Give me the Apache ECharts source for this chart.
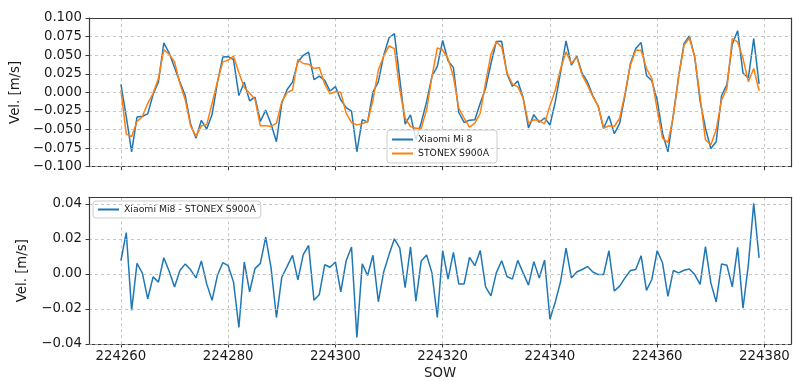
<!DOCTYPE html>
<html>
<head>
<meta charset="utf-8">
<script src="https://cdn.jsdelivr.net/npm/echarts@6/dist/echarts.min.js"></script>
<style>
  html, body { margin: 0; padding: 0; background: #fff; }
  #chart { width: 793px; height: 381px; }
</style>
</head>
<body>
<div id="chart"></div>
<script>
// GPS second-of-week of the first epoch; one sample per second
const SOW_START = 224260;

// Velocity [m/s] from the smartphone
const xiaomi = [
  0.0106, -0.0326, -0.0801, -0.0332, -0.0322, -0.0289, -0.0030, 0.0140, 0.0667, 0.0528,
  0.0335, 0.0139, -0.0046, -0.0427, -0.0616, -0.0376, -0.0494, -0.0298, 0.0135, 0.0474,
  0.0480, 0.0439, -0.0043, 0.0135, -0.0115, -0.0064, -0.0390, -0.0240, -0.0425, -0.0664,
  -0.0144, 0.0039, 0.0137, 0.0408, 0.0498, 0.0541, 0.0170, 0.0218, 0.0162, 0.0018,
  0.0077, -0.0102, -0.0206, -0.0253, -0.0799, -0.0367, -0.0401, 0.0003, 0.0140, 0.0497,
  0.0734, 0.0789, 0.0178, -0.0427, -0.0304, -0.0637, -0.0408, -0.0128, 0.0216, 0.0349,
  0.0698, 0.0425, 0.0333, -0.0271, -0.0405, -0.0374, -0.0368, -0.0147, 0.0055, 0.0388,
  0.0684, 0.0686, 0.0248, 0.0081, 0.0153, -0.0074, -0.0479, -0.0300, -0.0402, -0.0345,
  -0.0439, -0.0129, 0.0279, 0.0691, 0.0365, 0.0488, 0.0257, 0.0140, -0.0047, -0.0187,
  -0.0486, -0.0318, -0.0557, -0.0418, -0.0036, 0.0385, 0.0591, 0.0670, 0.0227, 0.0155,
  -0.0104, -0.0553, -0.0801, -0.0307, 0.0216, 0.0654, 0.0759, 0.0473, -0.0118, -0.0483,
  -0.0756, -0.0664, -0.0046, 0.0103, 0.0648, 0.0829, 0.0259, 0.0196, 0.0723, 0.0113
];

// Velocity [m/s] from the geodetic receiver
const stonex = [
  0.0031, -0.0562, -0.0593, -0.0392, -0.0326, -0.0147, -0.0013, 0.0187, 0.0575, 0.0513,
  0.0410, 0.0120, -0.0103, -0.0450, -0.0593, -0.0450, -0.0437, -0.0147, 0.0143, 0.0410,
  0.0433, 0.0486, 0.0263, 0.0067, -0.0013, -0.0094, -0.0450, -0.0450, -0.0459, -0.0415,
  -0.0125, -0.0004, 0.0031, 0.0442, 0.0388, 0.0379, 0.0321, 0.0335, 0.0110, -0.0020,
  0.0009, 0.0000, -0.0281, -0.0406, -0.0437, -0.0424, -0.0392, -0.0103, 0.0299, 0.0486,
  0.0624, 0.0589, 0.0031, -0.0348, -0.0459, -0.0482, -0.0482, -0.0236, 0.0210, 0.0598,
  0.0566, 0.0455, 0.0210, -0.0214, -0.0348, -0.0468, -0.0415, -0.0281, 0.0129, 0.0513,
  0.0678, 0.0611, 0.0263, 0.0111, 0.0076, -0.0080, -0.0415, -0.0370, -0.0379, -0.0424,
  -0.0180, 0.0031, 0.0321, 0.0544, 0.0388, 0.0477, 0.0232, 0.0098, -0.0058, -0.0183,
  -0.0482, -0.0450, -0.0459, -0.0348, -0.0013, 0.0366, 0.0566, 0.0566, 0.0321, 0.0187,
  -0.0236, -0.0615, -0.0673, -0.0326, 0.0210, 0.0633, 0.0731, 0.0477, -0.0058, -0.0638,
  -0.0705, -0.0504, -0.0103, 0.0054, 0.0722, 0.0678, 0.0455, 0.0143, 0.0321, 0.0022
];

// Velocity difference Xiaomi Mi8 - STONEX S900A [m/s]
const difference = [
  0.0075, 0.0236, -0.0208, 0.0060, 0.0004, -0.0142, -0.0017, -0.0047, 0.0092, 0.0015,
  -0.0075, 0.0019, 0.0057, 0.0023, -0.0023, 0.0074, -0.0057, -0.0151, -0.0008, 0.0064,
  0.0047, -0.0047, -0.0306, 0.0068, -0.0102, 0.0030, 0.0060, 0.0210, 0.0034, -0.0249,
  -0.0019, 0.0043, 0.0106, -0.0034, 0.0110, 0.0162, -0.0151, -0.0117, 0.0052, 0.0038,
  0.0068, -0.0102, 0.0075, 0.0153, -0.0362, 0.0057, -0.0009, 0.0106, -0.0159, 0.0011,
  0.0110, 0.0200, 0.0147, -0.0079, 0.0155, -0.0155, 0.0074, 0.0108, 0.0006, -0.0249,
  0.0132, -0.0030, 0.0123, -0.0057, -0.0057, 0.0094, 0.0047, 0.0134, -0.0074, -0.0125,
  0.0006, 0.0075, -0.0015, -0.0030, 0.0077, 0.0006, -0.0064, 0.0070, -0.0023, 0.0079,
  -0.0259, -0.0160, -0.0042, 0.0147, -0.0023, 0.0011, 0.0025, 0.0042, 0.0011, -0.0004,
  -0.0004, 0.0132, -0.0098, -0.0070, -0.0023, 0.0019, 0.0025, 0.0104, -0.0094, -0.0032,
  0.0132, 0.0062, -0.0128, 0.0019, 0.0006, 0.0021, 0.0028, -0.0004, -0.0060, 0.0155,
  -0.0051, -0.0160, 0.0057, 0.0049, -0.0074, 0.0151, -0.0196, 0.0053, 0.0402, 0.0091
];

// Tick values
const sowTicks = [224260, 224280, 224300, 224320, 224340, 224360, 224380];
const velTicksTop = [-0.1, -0.075, -0.05, -0.025, 0, 0.025, 0.05, 0.075, 0.1];
const velTicksBottom = [-0.04, -0.02, 0, 0.02, 0.04];

const sow = xiaomi.map((_, i) => SOW_START + i);
const pairs = vals => vals.map((v, i) => [sow[i], v]);

const FONT = 'DejaVu Sans';
const TEXT = '#1a1a1a';
const SPINE = '#3a3a3a';
const GRIDLINE = { show: true, lineStyle: { color: '#b8b8b8', type: [3, 3], width: 0.8 } };
const BLUE = '#1f77b4';
const ORANGE = '#ff7f0e';

// x range padded 5% past the first and last epoch
const span = sow[sow.length - 1] - sow[0];
const xMin = sow[0] - span * 0.05;
const xMax = sow[sow.length - 1] + span * 0.05;

const fmtSigned = d => v => {
  const s = Math.abs(v).toFixed(d);
  return (v < 0 && Number(s) !== 0 ? '\u2212' : '') + s;
};

function bottomX(gridIndex, showLabels) {
  return {
    type: 'value', gridIndex, min: xMin, max: xMax, splitNumber: 6,
    axisLine: { show: true, onZero: false, lineStyle: { color: SPINE, width: 1.2 } },
    axisTick: { show: true, length: 3.5, customValues: sowTicks, lineStyle: { color: SPINE } },
    axisLabel: {
      show: showLabels, customValues: sowTicks, margin: 6,
      fontFamily: FONT, fontSize: 13.3, color: TEXT, formatter: v => String(v)
    },
    splitLine: GRIDLINE,
    name: showLabels ? 'SOW' : '', nameLocation: 'middle', nameGap: 23,
    nameTextStyle: { fontFamily: FONT, fontSize: 13.3, color: TEXT },
    z: 1
  };
}
function frameX(gridIndex) {
  return {
    type: 'value', gridIndex, min: xMin, max: xMax, position: 'top',
    axisLine: { show: true, onZero: false, lineStyle: { color: SPINE, width: 1.2 } },
    axisTick: { show: false }, axisLabel: { show: false }, splitLine: { show: false }, z: 5
  };
}
function leftY(gridIndex, min, max, interval, ticks, digits) {
  return {
    type: 'value', gridIndex, min, max, interval,
    axisLine: { show: true, onZero: false, lineStyle: { color: SPINE, width: 1.2 } },
    axisTick: { show: true, length: 3.5, customValues: ticks, lineStyle: { color: SPINE } },
    axisLabel: {
      customValues: ticks, margin: 7, fontFamily: FONT, fontSize: 13.3, color: TEXT,
      formatter: fmtSigned(digits)
    },
    splitLine: GRIDLINE,
    name: 'Vel. [m/s]', nameLocation: 'middle', nameGap: 60,
    nameTextStyle: { fontFamily: FONT, fontSize: 13.3, color: TEXT },
    z: 5
  };
}
function frameY(gridIndex, min, max) {
  return {
    type: 'value', gridIndex, min, max, position: 'right',
    axisLine: { show: true, onZero: false, lineStyle: { color: SPINE, width: 1.2 } },
    axisTick: { show: false }, axisLabel: { show: false }, splitLine: { show: false }, z: 5
  };
}

const legendBase = {
  orient: 'vertical', icon: 'rect', itemWidth: 21, itemHeight: 2, itemGap: 3,
  selectedMode: false,
  textStyle: { fontFamily: FONT, fontSize: 9.3, color: TEXT, lineHeight: 11 },
  backgroundColor: 'rgba(255,255,255,0.8)', borderColor: '#cccccc', borderWidth: 1,
  borderRadius: 3
};

const chart = echarts.init(document.getElementById('chart'), null, { renderer: 'canvas' });
chart.setOption({
  animation: false,
  backgroundColor: '#ffffff',
  grid: [
    { left: 89, top: 18, width: 702, height: 148.7 },
    { left: 89, top: 197.3, width: 702, height: 148 }
  ],
  xAxis: [bottomX(0, false), bottomX(1, true), frameX(0), frameX(1)],
  yAxis: [
    leftY(0, -0.1, 0.1, 0.025, velTicksTop, 3),
    leftY(1, -0.04, 0.0437, 0.02, velTicksBottom, 2),
    frameY(0, -0.1, 0.1),
    frameY(1, -0.04, 0.0437)
  ],
  legend: [
    Object.assign({}, legendBase, {
      data: ['Xiaomi Mi 8', 'STONEX S900A'],
      left: 387, top: 130, padding: [4, 8, 4, 5]
    }),
    Object.assign({}, legendBase, {
      data: ['Xiaomi Mi8 - STONEX S900A'],
      left: 93, top: 201, padding: [3, 5, 3, 5]
    })
  ],
  series: [
    {
      name: 'Xiaomi Mi 8', type: 'line', xAxisIndex: 0, yAxisIndex: 0,
      data: pairs(xiaomi), showSymbol: false, symbol: 'none',
      lineStyle: { color: BLUE, width: 1.5 }, itemStyle: { color: BLUE }
    },
    {
      name: 'STONEX S900A', type: 'line', xAxisIndex: 0, yAxisIndex: 0,
      data: pairs(stonex), showSymbol: false, symbol: 'none',
      lineStyle: { color: ORANGE, width: 1.5 }, itemStyle: { color: ORANGE }
    },
    {
      name: 'Xiaomi Mi8 - STONEX S900A', type: 'line', xAxisIndex: 1, yAxisIndex: 1,
      data: pairs(difference), showSymbol: false, symbol: 'none',
      lineStyle: { color: BLUE, width: 1.5 }, itemStyle: { color: BLUE }
    }
  ]
});
</script>
</body>
</html>
